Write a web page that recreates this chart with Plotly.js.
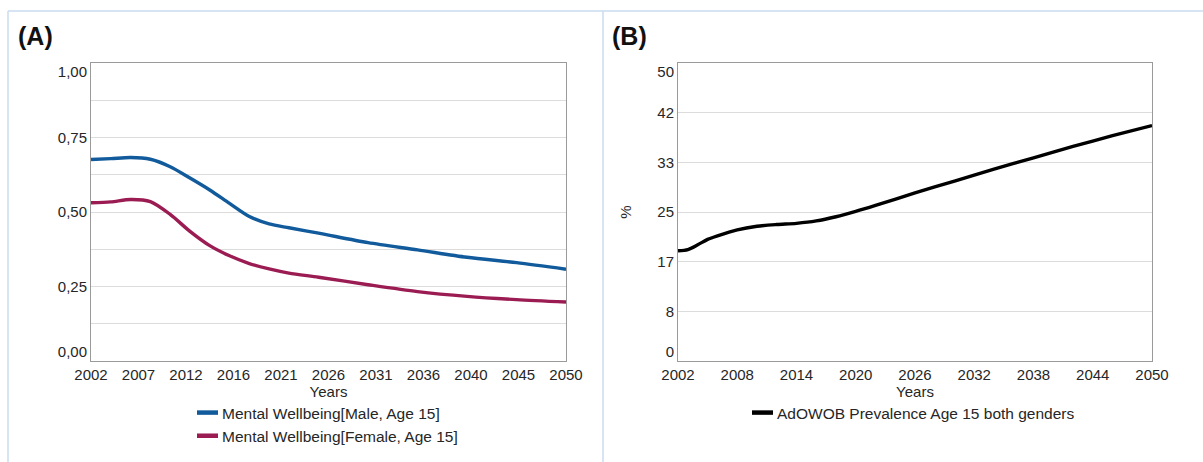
<!DOCTYPE html>
<html>
<head>
<meta charset="utf-8">
<script src="https://cdn.plot.ly/plotly-3.0.1.min.js"></script>
<style>
html,body{margin:0;padding:0;background:#fff;}
#chart{width:1203px;height:462px;}
</style>
</head>
<body>
<div id="chart"></div>
<script>
// ---- Data ----
const wellbeingYears = [2002, 2004, 2006, 2008, 2010, 2012, 2014, 2016, 2018, 2020, 2022, 2025, 2030, 2035, 2040, 2045, 2050];
const wellbeingMale   = [0.676, 0.679, 0.683, 0.677, 0.652, 0.614, 0.574, 0.529, 0.485, 0.460, 0.447, 0.429, 0.397, 0.373, 0.348, 0.330, 0.308];
const wellbeingFemale = [0.531, 0.534, 0.542, 0.535, 0.492, 0.435, 0.387, 0.353, 0.327, 0.309, 0.295, 0.281, 0.256, 0.233, 0.217, 0.206, 0.198];

const prevalenceYears = [2002, 2003, 2004, 2005, 2006, 2008, 2010, 2012, 2014, 2016, 2018, 2020, 2022, 2026, 2030, 2034, 2038, 2042, 2046, 2050];
const prevalence      = [18.5, 18.7, 19.5, 20.4, 21.0, 22.0, 22.6, 22.9, 23.1, 23.5, 24.2, 25.1, 26.1, 28.2, 30.2, 32.2, 34.1, 36.0, 37.8, 39.5];

const leftXTickVals  = [2002, 2006.8, 2011.6, 2016.4, 2021.2, 2026, 2030.8, 2035.6, 2040.4, 2045.2, 2050];
const leftXTickText  = ['2002','2007','2012','2016','2021','2026','2031','2036','2040','2045','2050'];
const leftYGridVals  = [0, 0.125, 0.25, 0.375, 0.5, 0.625, 0.75, 0.875, 1.0];
const leftYGridText  = ['','','0,25','','0,50','','0,75','',''];
const leftYEdgeVals  = [0.03, 0.97];
const leftYEdgeText  = ['0,00','1,00'];

const rightXTickVals = [2002, 2008, 2014, 2020, 2026, 2032, 2038, 2044, 2050];
const rightXTickText = ['2002','2008','2014','2020','2026','2032','2038','2044','2050'];
const rightYGridVals = [0, 50/6, 100/6, 25, 200/6, 250/6, 50];
const rightYGridText = ['','8','17','25','33','42',''];
const rightYEdgeVals = [1.5, 48.5];
const rightYEdgeText = ['0','50'];

const seriesNames = ['Mental Wellbeing[Male, Age 15]', 'Mental Wellbeing[Female, Age 15]', 'AdOWOB Prevalence Age 15 both genders'];

// ---- Layout helpers ----
const W = 1203, H = 462;
const px = v => v / W;
const py = v => 1 - v / H;
const FONT = 'Liberation Sans, Arial, sans-serif';
const TXT = '#262626';

const traces = [
  {x: wellbeingYears, y: wellbeingMale, name: seriesNames[0], type: 'scatter', mode: 'lines',
   line: {color: '#115a9b', width: 3.4, shape: 'spline', smoothing: 0.8}, xaxis: 'x', yaxis: 'y', legend: 'legend'},
  {x: wellbeingYears, y: wellbeingFemale, name: seriesNames[1], type: 'scatter', mode: 'lines',
   line: {color: '#9b1c52', width: 3.4, shape: 'spline', smoothing: 0.8}, xaxis: 'x', yaxis: 'y', legend: 'legend'},
  {x: prevalenceYears, y: prevalence, name: seriesNames[2], type: 'scatter', mode: 'lines',
   line: {color: '#000000', width: 3.4, shape: 'spline', smoothing: 0.8}, xaxis: 'x2', yaxis: 'y2', legend: 'legend2'},
  // empty helper traces so the overlay axes carrying the edge labels get drawn
  {x: [], y: [], type: 'scatter', mode: 'lines', xaxis: 'x', yaxis: 'y3', showlegend: false},
  {x: [], y: [], type: 'scatter', mode: 'lines', xaxis: 'x2', yaxis: 'y4', showlegend: false}
];

const tickFont = {family: FONT, size: 15, color: TXT};
const axisCommon = {
  showline: true, mirror: true, linecolor: '#9a9a9a', linewidth: 1,
  showgrid: true, gridcolor: '#dcdcdc', gridwidth: 1,
  zeroline: false, ticks: '', fixedrange: true,
  tickfont: tickFont
};
const edgeAxis = {
  showline: true, linecolor: 'rgba(0,0,0,0)', linewidth: 1,
  showgrid: false, zeroline: false, ticks: '', fixedrange: true,
  tickfont: tickFont, side: 'left', tickmode: 'array', autorange: false
};

const yDomain = [py(361), py(63)];

const layout = {
  width: W, height: H,
  margin: {l: 0, r: 0, t: 0, b: 0},
  paper_bgcolor: '#fff', plot_bgcolor: '#fff',
  font: {family: FONT, size: 15, color: TXT},
  hovermode: false,
  xaxis: Object.assign({}, axisCommon, {
    domain: [px(91), px(566)], range: [2002, 2050], anchor: 'y',
    tickmode: 'array', tickvals: leftXTickVals, ticktext: leftXTickText, showgrid: false,
    title: {text: 'Years', font: {family: FONT, size: 15, color: TXT}, standoff: 3}
  }),
  yaxis: Object.assign({}, axisCommon, {
    domain: yDomain, range: [0, 1], anchor: 'x',
    tickmode: 'array', tickvals: leftYGridVals, ticktext: leftYGridText
  }),
  yaxis3: Object.assign({}, edgeAxis, {
    overlaying: 'y', anchor: 'x', range: [0, 1],
    tickvals: leftYEdgeVals, ticktext: leftYEdgeText
  }),
  xaxis2: Object.assign({}, axisCommon, {
    domain: [px(678), px(1152)], range: [2002, 2050], anchor: 'y2',
    tickmode: 'array', tickvals: rightXTickVals, ticktext: rightXTickText, showgrid: false,
    title: {text: 'Years', font: {family: FONT, size: 15, color: TXT}, standoff: 3}
  }),
  yaxis2: Object.assign({}, axisCommon, {
    domain: yDomain, range: [0, 50], anchor: 'x2',
    tickmode: 'array', tickvals: rightYGridVals, ticktext: rightYGridText,
    title: {text: '%', font: {family: FONT, size: 15, color: TXT}, standoff: 22}
  }),
  yaxis4: Object.assign({}, edgeAxis, {
    overlaying: 'y2', anchor: 'x2', range: [0, 50],
    tickvals: rightYEdgeVals, ticktext: rightYEdgeText
  }),
  showlegend: true,
  legend: {
    x: px(182), xanchor: 'left', y: py(396), yanchor: 'top',
    orientation: 'v', bgcolor: 'rgba(0,0,0,0)', borderwidth: 0,
    itemwidth: 30, font: {family: FONT, size: 15.5, color: TXT},
    tracegroupgap: 0
  },
  legend2: {
    x: px(737), xanchor: 'left', y: py(396), yanchor: 'top',
    orientation: 'v', bgcolor: 'rgba(0,0,0,0)', borderwidth: 0,
    itemwidth: 30, font: {family: FONT, size: 15.5, color: TXT}
  },
  annotations: [
    {text: '<b>(A)</b>', xref: 'paper', yref: 'paper', x: px(16), y: py(36), xanchor: 'left', yanchor: 'middle',
     showarrow: false, font: {family: FONT, size: 25, color: '#111'}},
    {text: '<b>(B)</b>', xref: 'paper', yref: 'paper', x: px(610), y: py(36), xanchor: 'left', yanchor: 'middle',
     showarrow: false, font: {family: FONT, size: 25, color: '#111'}}
  ],
  shapes: [
    {type: 'line', xref: 'paper', yref: 'paper', x0: px(8), x1: 1, y0: py(11), y1: py(11), line: {color: '#c8dbef', width: 1.5}},
    {type: 'line', xref: 'paper', yref: 'paper', x0: px(8), x1: px(8), y0: py(11), y1: 0, line: {color: '#c8dbef', width: 1.5}},
    {type: 'line', xref: 'paper', yref: 'paper', x0: px(603), x1: px(603), y0: py(11), y1: 0, line: {color: '#c8dbef', width: 1.5}}
  ]
};

Plotly.newPlot('chart', traces, layout, {displayModeBar: false, staticPlot: true}).then(function (gd) {
  // shorten the legend line samples to match the short keys of the reference
  gd.querySelectorAll('.legendlines path').forEach(function (p) {
    p.setAttribute('d', 'M15,0h21');
    p.style.strokeWidth = '4.5px';
  });
});
</script>
</body>
</html>
